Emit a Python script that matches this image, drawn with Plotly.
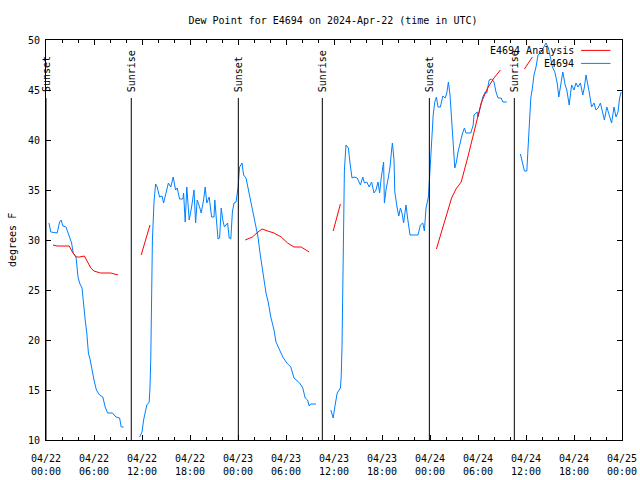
import plotly.graph_objects as go
import pandas as pd

start = pd.Timestamp("2024-04-22 00:00")

# Observed dew point (E4694), hours after 04/22 00:00 UTC; None = gap
blue_hours = [0.375, 0.6, 1.4, 1.7, 1.9, 2.1, 2.5, 2.9, 3.2, 3.4, 3.75, 4.0, 4.2, 4.5, 4.7, 4.9, 5.1, 5.3, 5.5, 5.8,
              6.0, 6.3, 6.7, 7.1, 7.4, 7.7, 8.3, 8.75, 9.2, 9.4, 9.7,
              None,
              11.7, 12.0, 12.2, 12.5, 12.6, 12.9, 13.0, 13.1, 13.2, 13.3, 13.5, 13.7, 13.9, 14.2, 14.5, 14.7, 15.0,
              15.3, 15.6, 15.9, 16.2, 16.4, 16.7, 17.1, 17.2, 17.4, 17.6, 17.9, 18.2, 18.5, 18.7, 18.9, 19.2, 19.4,
              19.7, 19.9, 20.1, 20.4, 20.7, 21.0, 21.1, 21.4, 21.5, 21.7, 21.9, 22.1, 22.3, 22.7, 22.9, 23.1, 23.3,
              23.5, 23.75, 24.0, 24.2, 24.5, 24.7, 25.0, 25.4, 25.8, 26.1, 26.5, 26.75, 27.0, 27.2, 27.5, 27.8, 28.1,
              28.5, 28.75, 29.2, 29.6, 30.1, 30.6, 31.0, 31.7, 32.1, 32.4, 32.7, 32.9, 33.1, 33.75,
              None,
              35.6, 35.9, 36.1, 36.4, 36.8, 36.9, 37.0, 37.1, 37.2, 37.3, 37.5, 37.8, 38.0, 38.25, 38.5, 38.9, 39.3,
              39.6, 39.8, 40.1, 40.4, 40.7, 41.0, 41.25, 41.5, 41.7, 41.9, 42.1, 42.2, 42.3, 42.5, 42.8, 43.0, 43.2,
              43.3, 43.5, 43.6, 43.9, 44.1, 44.3, 44.5, 44.7, 45.0, 45.2, 45.5, 46.5, 46.8, 47.1, 47.3, 47.5, 47.8,
              48.0, 48.1, 48.25, 48.4, 48.6, 48.8, 49.0, 49.3, 49.6, 49.9, 50.1, 50.3, 50.5, 50.75, 50.9, 51.1, 51.3,
              51.5, 51.8, 52.0, 52.3, 52.5, 53.1, 53.4, 53.5, 53.9, 54.0, 54.3, 54.6, 54.9, 55.1, 55.4, 55.7, 56.0,
              56.25, 56.5, 56.9, 57.1, 57.6,
              None,
              59.3, 59.6, 59.8, 60.1, 60.3, 60.5, 60.6, 60.8, 61.0, 61.25, 61.5, 61.9, 62.2, 62.5, 62.8, 63.0, 63.3,
              63.6, 63.9, 64.1, 64.4, 64.6, 64.9, 65.1, 65.4, 65.7, 66.0, 66.25, 66.5, 66.8, 67.1, 67.3, 67.5, 67.7,
              67.9, 68.2, 68.5, 68.75, 69.0, 69.3, 69.6, 69.8, 70.1, 70.4, 70.7, 71.0, 71.25, 71.5, 71.7, 71.9]
blue_values = [31.7, 30.8, 30.7, 31.8, 32.0, 31.4, 31.3, 30.3, 29.7, 28.7, 28.3, 26.3, 25.7, 25.2, 23.3, 22.0, 20.7, 18.7,
               18.1, 16.7, 16.0, 15.0, 14.5, 14.3, 13.3, 12.7, 12.7, 12.3, 12.2, 11.3, 11.3,
               None,
               10.3, 10.8, 12.0, 13.2, 13.5, 13.8, 15.3, 18.3, 23.3, 30.0, 33.8, 35.6, 35.3, 34.3, 34.4, 33.7, 34.7,
               35.7, 35.3, 36.3, 35.0, 35.2, 34.1, 34.1, 34.7, 31.8, 35.3, 32.0, 33.3, 35.0, 31.7, 34.0, 33.3, 32.7,
               34.0, 35.3, 33.7, 34.3, 32.3, 32.3, 34.0, 31.0, 30.1, 30.2, 33.2, 32.0, 31.3, 31.7, 30.2, 30.1, 32.8,
               33.7, 33.8, 35.2, 37.3, 37.7, 36.5, 36.2, 34.7, 33.0, 32.0, 30.3, 28.7, 27.3, 26.0, 24.7, 23.7, 22.3,
               21.0, 19.8, 19.0, 18.3, 17.7, 17.3, 16.2, 15.7, 15.2, 14.2, 14.0, 13.4, 13.6, 13.6,
               None,
               13.0, 12.2, 13.3, 14.7, 15.2, 16.3, 19.3, 24.0, 32.3, 37.0, 39.5, 39.2, 37.7, 36.2, 36.3, 36.2, 35.5,
               36.3, 35.7, 35.8, 35.3, 35.8, 34.7, 35.0, 35.8, 34.7, 36.2, 37.2, 37.8, 33.7, 35.0, 36.3, 37.3, 39.0,
               39.7, 38.0, 34.8, 33.2, 32.4, 33.2, 32.7, 31.7, 33.5, 32.2, 30.5, 30.5, 31.5, 31.7, 30.9, 33.2, 34.3,
               37.0, 38.7, 40.5, 42.5, 43.8, 44.3, 43.3, 43.3, 44.4, 44.2, 44.7, 45.8, 44.5, 41.8, 39.5, 37.2, 37.8,
               38.8, 39.8, 40.5, 41.2, 40.7, 40.7, 41.5, 42.5, 42.8, 42.3, 43.3, 44.3, 44.8, 44.7, 46.0, 46.1, 45.8,
               44.8, 44.2, 44.2, 43.8, 43.8,
               None,
               38.6, 37.7, 36.9, 36.9, 39.5, 42.2, 44.2, 45.2, 46.5, 47.3, 48.5, 48.8, 49.2, 49.7, 49.2, 48.5, 47.3,
               46.8, 45.7, 44.3, 45.7, 46.8, 45.5, 45.0, 43.5, 45.5, 45.0, 45.7, 45.3, 45.7, 44.5, 45.3, 46.5, 45.8,
               44.8, 43.3, 43.7, 43.0, 43.2, 43.7, 42.8, 42.0, 43.3, 42.5, 41.7, 43.3, 42.3, 42.8, 44.2, 44.8]

# Analysis (E4694 Analysis)
red_hours = [0.875, 1.4, 2.9, 3.3, 3.75, 4.2, 4.8, 5.2, 5.6, 6.0, 6.8, 8.1, 9.0,
             None, 11.9, 13.0,
             None, 24.9, 25.8, 26.5, 27.0, 27.7, 28.5, 29.4, 30.2, 31.0, 31.9, 32.9,
             None, 35.9, 36.8,
             None, 48.8, 49.4, 50.0, 50.7, 51.25, 51.9, 52.7, 53.5, 54.4, 55.2, 56.0, 56.8,
             None, 59.8, 60.8]
red_values = [29.5, 29.4, 29.4, 28.8, 28.3, 28.3, 28.4, 27.8, 27.2, 26.9, 26.7, 26.7, 26.5,
              None, 28.5, 31.5,
              None, 30.0, 30.3, 30.8, 31.1, 30.9, 30.7, 30.3, 29.7, 29.3, 29.3, 28.8,
              None, 30.9, 33.6,
              None, 29.1, 30.7, 32.3, 34.2, 35.1, 35.8, 38.2, 40.8, 43.7, 45.2, 46.2, 47.0,
              None, 47.1, 48.3]

# Sunset / sunrise markers
sun_labels = ["Sunset", "Sunrise", "Sunset", "Sunrise", "Sunset", "Sunrise"]
sun_hours = [0.0, 10.66, 24.04, 34.54, 47.92, 58.54]

tick_hours = [0, 6, 12, 18, 24, 30, 36, 42, 48, 54, 60, 66, 72]
tick_labels = ["04/22<br>00:00", "04/22<br>06:00", "04/22<br>12:00", "04/22<br>18:00",
               "04/23<br>00:00", "04/23<br>06:00", "04/23<br>12:00", "04/23<br>18:00",
               "04/24<br>00:00", "04/24<br>06:00", "04/24<br>12:00", "04/24<br>18:00",
               "04/25<br>00:00"]
y_ticks = [10, 15, 20, 25, 30, 35, 40, 45, 50]

legend_names = ["E4694 Analysis", "E4694"]
RED = "#ff0000"
BLUE = "#0080ff"
FONT = "DejaVu Sans Mono"

W, H = 640, 480


def to_time(hours):
    return [None if h is None else start + pd.Timedelta(hours=h) for h in hours]


fig = go.Figure()
fig.add_trace(go.Scatter(x=to_time(blue_hours), y=blue_values, mode="lines",
                         line=dict(color=BLUE, width=1), name=legend_names[1], connectgaps=False))
fig.add_trace(go.Scatter(x=to_time(red_hours), y=red_values, mode="lines",
                         line=dict(color=RED, width=1), name=legend_names[0], connectgaps=False))

for lab, h in zip(sun_labels, to_time(sun_hours)):
    fig.add_shape(type="line", xref="x", yref="y", x0=h, x1=h, y0=10, y1=44.2,
                  line=dict(color="black", width=1))
    fig.add_annotation(x=h, y=44.6, xref="x", yref="y", text=lab, textangle=-90,
                       showarrow=False, xanchor="center", yanchor="bottom",
                       font=dict(family=FONT, size=10, color="black"))

# legend drawn gnuplot-style (text right, sample line after)
for i, (name, col) in enumerate(zip(legend_names, [RED, BLUE])):
    yp = 0.974 - i * 0.0325
    fig.add_annotation(x=0.921, y=yp, xref="paper", yref="paper", text=name, showarrow=False,
                       xanchor="right", yanchor="middle", font=dict(family=FONT, size=10, color="black"))
    fig.add_shape(type="line", xref="paper", yref="paper", x0=0.929, x1=0.980, y0=yp, y1=yp,
                  line=dict(color=col, width=1))

fig.add_annotation(x=-0.059, y=0.5, xref="paper", yref="paper", text="degrees F", textangle=-90,
                   showarrow=False, xanchor="center", yanchor="middle",
                   font=dict(family=FONT, size=10, color="black"))

axis_common = dict(showline=True, linecolor="black", linewidth=1, mirror="allticks",
                   ticks="inside", tickcolor="black", ticklen=5, tickwidth=1,
                   showgrid=False, zeroline=False, automargin=False,
                   tickfont=dict(family=FONT, size=10, color="black"))

fig.update_layout(
    width=W, height=H,
    margin=dict(l=46, r=18, t=40, b=40),
    paper_bgcolor="white", plot_bgcolor="white",
    showlegend=False,
    font=dict(family=FONT, size=10, color="black"),
    title=dict(text="Dew Point for E4694 on 2024-Apr-22 (time in UTC)", x=333 / W, xanchor="center",
               y=1 - 20 / H, yanchor="middle", font=dict(family=FONT, size=10, color="black")),
    xaxis=dict(range=[start, start + pd.Timedelta(hours=72)], tickmode="array",
               tickvals=to_time(tick_hours), ticktext=tick_labels, ticklabelstandoff=9,
               minor=dict(tickmode="linear", tick0=start, dtick=2 * 3600 * 1000, ticks="inside",
                          ticklen=3, tickcolor="black", showgrid=False),
               **axis_common),
    yaxis=dict(range=[10, 50], tickmode="array", tickvals=y_ticks,
               ticktext=[str(v) for v in y_ticks], ticklabelstandoff=3, **axis_common),
)

fig.write_html("out.html", config={"displayModeBar": False},
               post_script="document.body.style.margin='0';document.body.style.overflow='hidden';")
